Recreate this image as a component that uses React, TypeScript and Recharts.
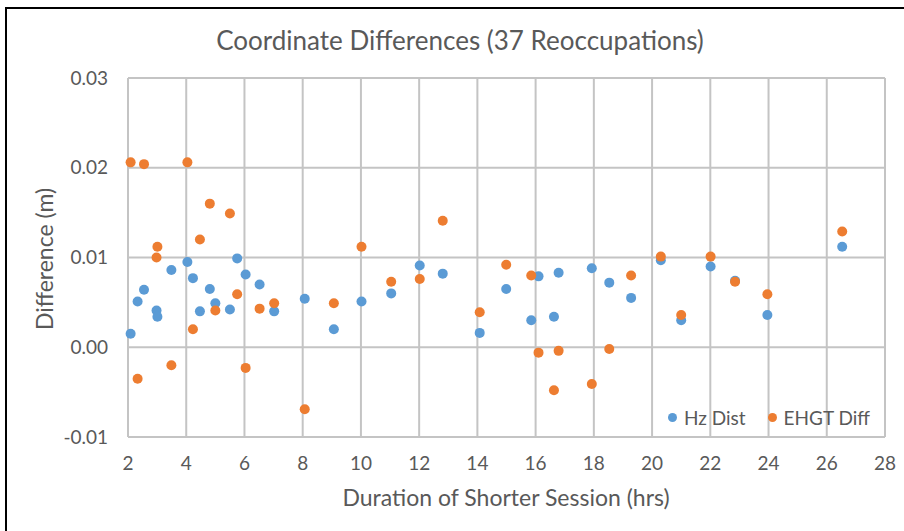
import { ScatterChart, Scatter, XAxis, YAxis, CartesianGrid, Legend } from "recharts";

// durations of the shorter session (hrs), one per reoccupation
const durations = [
  2.09, 2.33, 2.55, 2.98, 3.01, 3.49, 4.04, 4.23, 4.47, 4.81, 5.0, 5.5, 5.75,
  6.04, 6.52, 7.02, 8.07, 9.07, 10.02, 11.04, 12.02, 12.81, 14.08, 14.99, 15.85,
  16.1, 16.63, 16.79, 17.93, 18.53, 19.28, 20.3, 21.0, 22.01, 22.85, 23.96, 26.53,
];

const hzDist = [
  0.0015, 0.0051, 0.0064, 0.0041, 0.0034, 0.0086, 0.0095, 0.0077, 0.004, 0.0065,
  0.0049, 0.0042, 0.0099, 0.0081, 0.007, 0.004, 0.0054, 0.002, 0.0051, 0.006,
  0.0091, 0.0082, 0.0016, 0.0065, 0.003, 0.0079, 0.0034, 0.0083, 0.0088, 0.0072,
  0.0055, 0.0097, 0.003, 0.009, 0.0074, 0.0036, 0.0112,
];

const ehgtDiff = [
  0.0206, -0.0035, 0.0204, 0.01, 0.0112, -0.002, 0.0206, 0.002, 0.012, 0.016,
  0.0041, 0.0149, 0.0059, -0.0023, 0.0043, 0.0049, -0.0069, 0.0049, 0.0112,
  0.0073, 0.0076, 0.0141, 0.0039, 0.0092, 0.008, -0.0006, -0.0048, -0.0004,
  -0.0041, -0.0002, 0.008, 0.0101, 0.0036, 0.0101, 0.0073, 0.0059, 0.0129,
];

const xTicks = [2, 4, 6, 8, 10, 12, 14, 16, 18, 20, 22, 24, 26, 28];
const yTicks = [-0.01, 0, 0.01, 0.02, 0.03];

const BLUE = "#5b9bd5";
const ORANGE = "#ed7d31";
const TEXT = "#595959";
const FONT = "Lato, 'Open Sans', sans-serif";

const hzData = durations.map((x, i) => ({ x, y: hzDist[i] }));
const ehgtData = durations.map((x, i) => ({ x, y: ehgtDiff[i] }));

const dot = (color: string) => (p: any) => (
  <circle cx={p.cx} cy={p.cy} r={5} fill={color} />
);

const LegendContent = () => (
  <div style={{ display: "flex", alignItems: "center", fontFamily: FONT, fontSize: 19, color: TEXT }}>
    <span style={{ width: 9, height: 9, borderRadius: "50%", background: BLUE, marginRight: 7 }} />
    <span style={{ marginRight: 22 }}>Hz Dist</span>
    <span style={{ width: 9, height: 9, borderRadius: "50%", background: ORANGE, marginRight: 7 }} />
    <span>EHGT Diff</span>
  </div>
);

export default function App() {
  return (
    <div
      style={{
        position: "absolute",
        left: 0,
        top: 0,
        width: 904,
        height: 531,
        background: "#fff",
        overflow: "hidden",
        fontFamily: FONT,
      }}
    >
      {/* black frame, only left and top edges visible */}
      <div
        style={{
          position: "absolute",
          left: 5,
          top: 7,
          width: 910,
          height: 540,
          borderLeft: "2px solid #000",
          borderTop: "2px solid #000",
        }}
      />
      <div
        style={{
          position: "absolute",
          left: 460,
          top: 40,
          transform: "translate(-50%, -50%)",
          whiteSpace: "nowrap",
          fontSize: 26,
          color: TEXT,
        }}
      >
        Coordinate Differences (37 Reoccupations)
      </div>
      <div
        style={{
          position: "absolute",
          left: 44,
          top: 259,
          transform: "translate(-50%, -50%) rotate(-90deg)",
          whiteSpace: "nowrap",
          fontSize: 23,
          color: TEXT,
        }}
      >
        Difference (m)
      </div>
      <div
        style={{
          position: "absolute",
          left: 506,
          top: 497,
          transform: "translate(-50%, -50%)",
          whiteSpace: "nowrap",
          fontSize: 23,
          color: TEXT,
        }}
      >
        Duration of Shorter Session (hrs)
      </div>
      <ScatterChart
        width={904}
        height={531}
        margin={{ top: 78, right: 19, bottom: 64, left: 0 }}
        style={{ position: "absolute", left: 0, top: 0 }}
      >
        <CartesianGrid stroke="#c4c4c4" strokeWidth={2} />
        <XAxis
          type="number"
          dataKey="x"
          domain={[2, 28]}
          ticks={xTicks}
          height={30}
          stroke="#c4c4c4"
          strokeWidth={2}
          tickLine={false}
          tickMargin={14}
          tick={{ fill: TEXT, fontSize: 19, fontFamily: FONT }}
        />
        <YAxis
          type="number"
          dataKey="y"
          domain={[-0.01, 0.03]}
          ticks={yTicks}
          width={128}
          axisLine={false}
          tickLine={false}
          tickMargin={14}
          tickFormatter={(v: number) => v.toFixed(2)}
          tick={{ fill: TEXT, fontSize: 19, fontFamily: FONT }}
        />
        <Legend
          layout="horizontal"
          verticalAlign="middle"
          align="center"
          content={<LegendContent />}
          wrapperStyle={{ top: 406, left: 668, width: 230 }}
        />
        <Scatter name="Hz Dist" data={hzData} fill={BLUE} shape={dot(BLUE)} isAnimationActive={false} />
        <Scatter name="EHGT Diff" data={ehgtData} fill={ORANGE} shape={dot(ORANGE)} isAnimationActive={false} />
      </ScatterChart>
    </div>
  );
}
